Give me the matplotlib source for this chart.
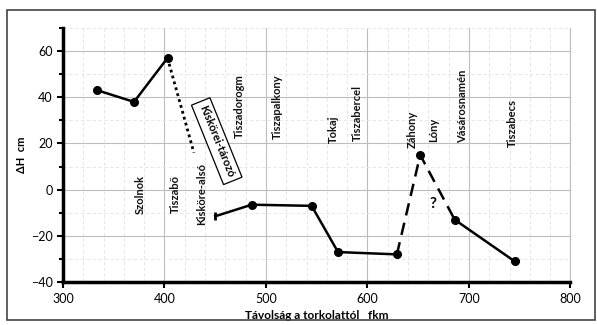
import matplotlib
matplotlib.use("Agg")
import matplotlib.pyplot as plt
from matplotlib.ticker import MultipleLocator

# Data
x_upper = [334, 370, 403]
y_upper = [43, 38, 57]
x_dotted = [403, 429]
y_dotted = [57, 16]
x_mid = [450, 486, 545, 571, 629]
y_mid = [-11.5, -6.5, -7, -27, -28]
x_dash = [629, 652, 686]
y_dash = [-28, 15, -13]
x_low = [686, 745]
y_low = [-13, -31]

stations = ["Szolnok", "Tiszabő", "Kisköre-alsó", "Tiszadorogm", "Tiszapalkony",
            "Tokaj", "Tiszabercel", "Záhony", "Lóny", "Vásárosnamén", "Tiszabecs"]
station_x = [376, 411, 437, 474, 511, 566, 590, 644, 665, 694, 743]
station_y = [-2, -2, -2, 36, 36, 26, 33, 26, 26, 36, 29]

plt.rcParams['font.family'] = ['Lato', 'DejaVu Sans']

fig = plt.figure(figsize=(5.97, 3.25), dpi=100)
ax = fig.add_axes([0.1055, 0.132, 0.85, 0.782])

ax.set_xlim(300, 800)
ax.set_ylim(-40, 70)
ax.xaxis.set_major_locator(MultipleLocator(100))
ax.xaxis.set_minor_locator(MultipleLocator(20))
ax.yaxis.set_major_locator(MultipleLocator(20))
ax.yaxis.set_minor_locator(MultipleLocator(10))
ax.set_yticks([-40, -20, 0, 20, 40, 60])
ax.grid(True, which='major', color='#bdbdbd', lw=0.8)
ax.grid(True, which='minor', color='#e2e2e2', lw=0.6, ls=(0, (4, 3)))
ax.set_axisbelow(True)

ax.spines['top'].set_visible(False)
ax.spines['right'].set_color('#bdbdbd')
ax.spines['right'].set_linewidth(0.8)
ax.spines['left'].set_linewidth(2.5)
ax.spines['bottom'].set_linewidth(2.5)
ax.tick_params(axis='both', which='major', labelsize=9, width=1.5, length=4, direction='out')
ax.tick_params(axis='y', which='minor', width=1.5, length=3)
ax.tick_params(axis='x', which='minor', length=0)

lw = 1.8
ax.plot(x_upper, y_upper, color='black', lw=lw, marker='o', ms=5.5)
ax.plot(x_dotted, y_dotted, color='black', lw=2, ls=(0, (1, 1.2)))
ax.plot(x_mid[1:], y_mid[1:], color='black', lw=lw, marker='o', ms=5.5)
ax.plot(x_mid[:2], y_mid[:2], color='black', lw=lw)
ax.plot(x_mid[:1], y_mid[:1], color='black', marker='|', ms=6, mew=2)
ax.plot(x_dash, y_dash, color='black', lw=lw, ls=(0, (5, 3)))
ax.plot(x_dash[1:2], y_dash[1:2], color='black', marker='o', ms=5.5, ls='none')
ax.plot(x_low, y_low, color='black', lw=lw, marker='o', ms=5.5)

for name, sx, sy in zip(stations, station_x, station_y):
    ax.text(sx, sy, name, rotation=90, ha='center', va='center', fontsize=8,
            fontweight='bold', color='#111111')

ax.text(451.5, 21, "Kiskörei-tározó", rotation=-68, ha='center', va='center',
        fontsize=8, fontweight='bold',
        bbox=dict(boxstyle='square,pad=0.4', fc='white', ec='black', lw=0.9))

ax.text(665, -6, "?", ha='center', va='center', fontsize=11, fontweight='bold')

ax.set_ylabel("ΔH  cm", fontsize=8, fontweight='bold', labelpad=3)
ax.set_xlabel("Távolság a torkolattól   fkm", fontsize=8.5, fontweight='bold', labelpad=4)

# outer frame
fig.add_artist(plt.Rectangle((0.012, 0.015), 0.985, 0.955, transform=fig.transFigure,
                             fill=False, ec='#444444', lw=1.2))

fig.savefig("out.png", dpi=100)
